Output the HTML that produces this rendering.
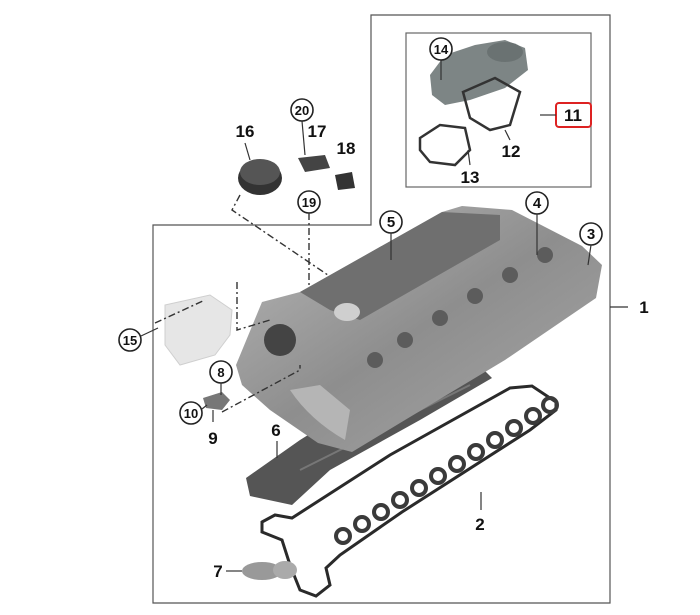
<!DOCTYPE html>
<html><head><style>
html,body{margin:0;padding:0;background:#fff;}
svg{display:block;font-family:"Liberation Sans",sans-serif;}
.c{fill:#fff;stroke:#222;stroke-width:1.6}
.t{font-size:15px;font-weight:bold;fill:#111;text-anchor:middle}
.b{font-size:17px;font-weight:bold;fill:#111;text-anchor:middle}
.l{stroke:#333;stroke-width:1.2;fill:none}
.d{stroke:#333;stroke-width:1.4;fill:none;stroke-dasharray:7 3 2 3}
</style></head><body>
<svg width="700" height="615" viewBox="0 0 700 615">
<defs>
<linearGradient id="g" x1="0" y1="0" x2="1" y2="1"><stop offset="0" stop-color="#b8b8b8"/><stop offset="0.5" stop-color="#8e8e8e"/><stop offset="1" stop-color="#a8a8a8"/></linearGradient>
</defs>
<!-- frames -->
<path d="M153 225 H371 V15 H610 V603 H153 Z" fill="none" stroke="#555" stroke-width="1.2"/>
<rect x="406" y="33" width="185" height="154" fill="none" stroke="#666" stroke-width="1.2"/>
<line x1="610" y1="307" x2="628" y2="307" class="l"/>
<text x="644" y="313" class="b">1</text>
<rect x="556" y="103" width="35" height="24" rx="3" fill="#fff" stroke="#d22" stroke-width="2"/>
<text x="573" y="121" class="b">11</text>
<line x1="540" y1="115" x2="556" y2="115" class="l"/>
<!-- part 14 -->
<path d="M430 75 L445 55 L475 45 L505 40 L525 48 L528 70 L505 88 L470 100 L445 105 L432 95 Z" fill="#7d8585"/>
<ellipse cx="505" cy="52" rx="18" ry="10" fill="#6a7272"/>
<path d="M463 92 L495 78 L520 92 L510 125 L490 130 L470 118 Z" fill="none" stroke="#333" stroke-width="2.5"/>
<path d="M420 138 L440 125 L465 128 L470 150 L455 165 L430 162 L420 150 Z" fill="none" stroke="#333" stroke-width="2.5"/>
<line x1="441" y1="60" x2="441" y2="80" class="l"/>
<circle cx="441" cy="49" r="11" class="c"/><text x="441" y="54" class="t" style="font-size:13px">14</text>
<line x1="505" y1="130" x2="510" y2="140" class="l"/>
<text x="511" y="157" class="b">12</text>
<line x1="468" y1="150" x2="470" y2="165" class="l"/>
<text x="470" y="183" class="b">13</text>
<!-- upper left parts -->
<ellipse cx="260" cy="178" rx="22" ry="17" fill="#333"/>
<ellipse cx="260" cy="172" rx="20" ry="13" fill="#555"/>
<text x="245" y="137" class="b">16</text>
<line x1="245" y1="143" x2="250" y2="160" class="l"/>
<path d="M298 158 L325 155 L330 168 L305 172 Z" fill="#444"/>
<path d="M335 175 L352 172 L355 188 L338 190 Z" fill="#333"/>
<text x="317" y="137" class="b">17</text>
<text x="346" y="154" class="b">18</text>
<line x1="302" y1="121" x2="305" y2="155" class="l"/>
<circle cx="302" cy="110" r="11" class="c"/><text x="302" y="115" class="t" style="font-size:13px">20</text>
<circle cx="309" cy="202" r="11" class="c"/><text x="309" y="207" class="t" style="font-size:13px">19</text>
<path d="M240 195 L232 210 L350 290 L347 310" class="d"/>
<path d="M309 213 L309 305 L345 330 L345 380" class="d"/>
<!-- gasket 6 -->
<path d="M246 478 L300 440 L345 412 L440 378 L480 366 L492 378 L420 420 L330 470 L292 505 L250 496 Z" fill="#555"/>
<path d="M300 470 L380 430 L470 385" stroke="#777" stroke-width="2" fill="none"/>
<!-- head -->
<path d="M236 365 L262 302 L300 292 L442 212 L462 206 L512 210 L582 246 L602 265 L596 298 L505 360 L405 420 L352 452 L318 443 L270 410 L242 385 Z" fill="url(#g)"/>
<path d="M300 292 L442 212 L500 215 L500 240 L360 320 L330 310 Z" fill="#6f6f6f"/>
<circle cx="280" cy="340" r="16" fill="#444"/>
<ellipse cx="347" cy="312" rx="13" ry="9" fill="#cfcfcf"/>
<g fill="#5c5c5c">
<circle cx="405" cy="340" r="8"/><circle cx="440" cy="318" r="8"/><circle cx="475" cy="296" r="8"/><circle cx="510" cy="275" r="8"/><circle cx="545" cy="255" r="8"/><circle cx="375" cy="360" r="8"/>
</g>
<path d="M290 390 Q310 420 345 440 L350 410 L320 385 Z" fill="#b5b5b5"/>
<!-- part 15 -->
<path d="M165 305 L210 295 L232 310 L230 335 L215 355 L180 365 L165 345 Z" fill="#e6e6e6" stroke="#cfcfcf"/>
<path d="M155 323 L205 300 M237 282 L237 330 L270 320" class="d"/>
<circle cx="130" cy="340" r="11" class="c"/><text x="130" y="345" class="t" style="font-size:13px">15</text>
<line x1="141" y1="336" x2="158" y2="328" class="l"/>
<!-- parts 8,9,10 -->
<path d="M203 398 L222 392 L230 400 L222 410 L206 408 Z" fill="#777"/>
<circle cx="221" cy="372" r="11" class="c"/><text x="221" y="377" class="t" style="font-size:13px">8</text>
<line x1="221" y1="383" x2="221" y2="395" class="l"/>
<circle cx="191" cy="413" r="11" class="c"/><text x="191" y="418" class="t" style="font-size:13px">10</text>
<line x1="202" y1="409" x2="207" y2="405" class="l"/>
<line x1="213" y1="410" x2="213" y2="422" class="l"/>
<text x="213" y="444" class="b">9</text>
<path d="M222 412 L300 370 L300 365" class="d"/>
<text x="276" y="436" class="b">6</text>
<line x1="277" y1="441" x2="277" y2="458" class="l"/>
<!-- labels on head -->
<circle cx="391" cy="222" r="11" class="c"/><text x="391" y="227" class="t">5</text>
<line x1="391" y1="233" x2="391" y2="260" class="l"/>
<circle cx="537" cy="203" r="11" class="c"/><text x="537" y="208" class="t">4</text>
<line x1="537" y1="214" x2="537" y2="255" class="l"/>
<circle cx="591" cy="234" r="11" class="c"/><text x="591" y="239" class="t">3</text>
<line x1="591" y1="245" x2="588" y2="265" class="l"/>
<!-- gasket 2 -->
<path d="M262 522 L275 515 L292 518 L390 455 L510 388 L532 386 L556 402 L556 410 L530 430 L402 512 L340 555 L326 568 L330 585 L316 596 L300 590 L290 565 L282 540 L262 532 Z" fill="none" stroke="#2a2a2a" stroke-width="3"/>
<g fill="none" stroke="#3a3a3a" stroke-width="4">
<circle cx="343" cy="536" r="7"/><circle cx="362" cy="524" r="7"/><circle cx="381" cy="512" r="7"/><circle cx="400" cy="500" r="7"/><circle cx="419" cy="488" r="7"/><circle cx="438" cy="476" r="7"/><circle cx="457" cy="464" r="7"/><circle cx="476" cy="452" r="7"/><circle cx="495" cy="440" r="7"/><circle cx="514" cy="428" r="7"/><circle cx="533" cy="416" r="7"/><circle cx="550" cy="405" r="7"/>
</g>
<line x1="481" y1="492" x2="481" y2="510" class="l"/>
<text x="480" y="530" class="b">2</text>
<!-- part 7 -->
<ellipse cx="262" cy="571" rx="20" ry="9" fill="#999"/>
<ellipse cx="285" cy="570" rx="12" ry="9" fill="#aaa"/>
<line x1="226" y1="571" x2="242" y2="571" class="l"/>
<text x="218" y="577" class="b">7</text>
</svg>
</body></html>
